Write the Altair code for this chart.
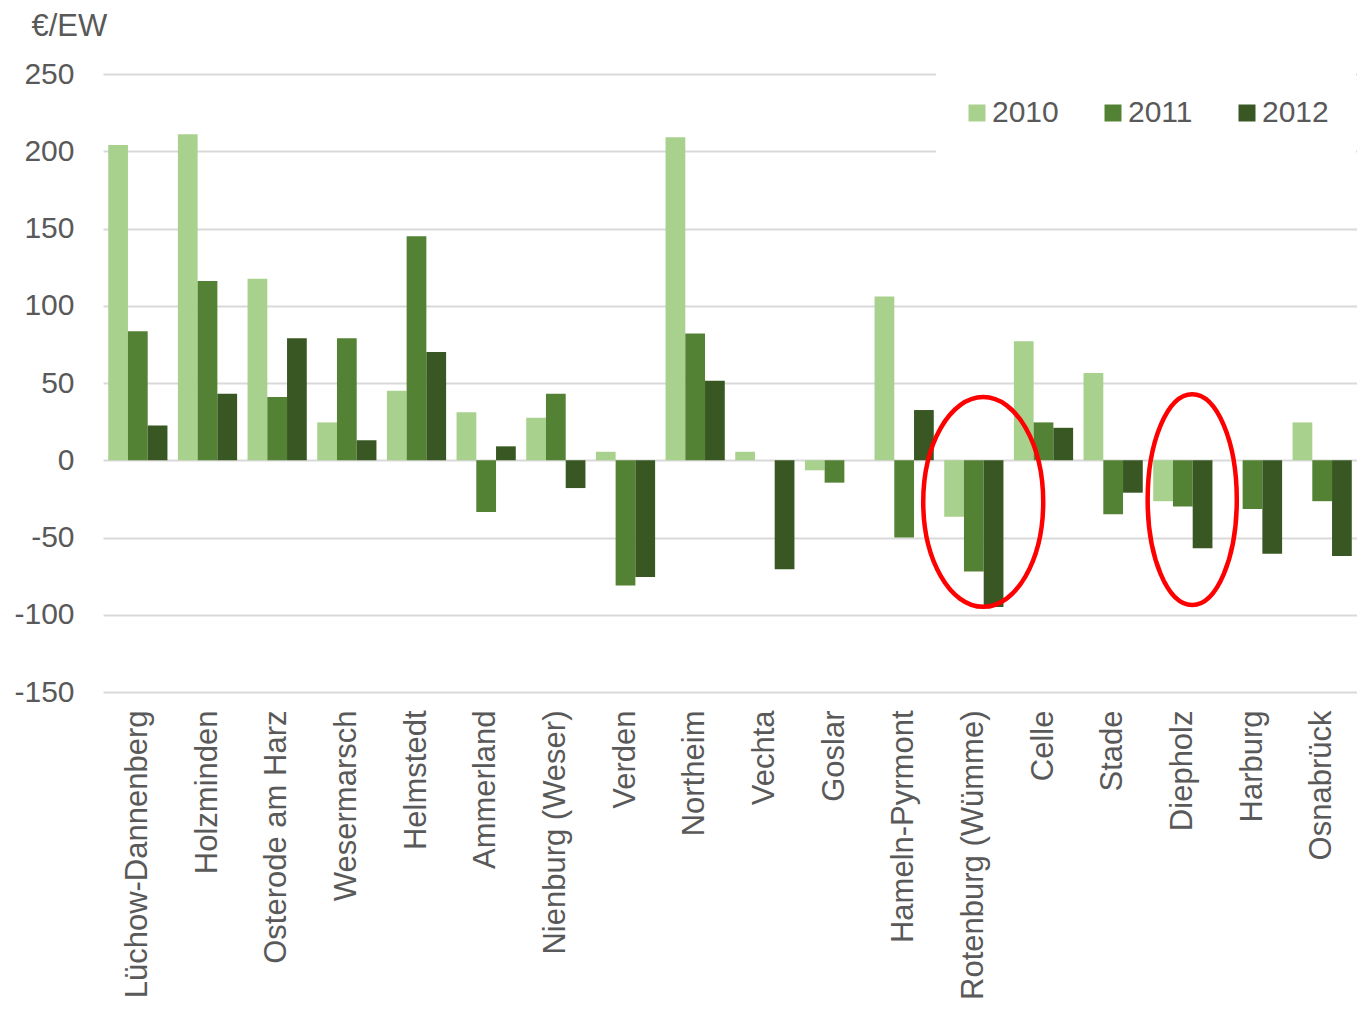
import altair as alt
import pandas as pd

districts = ["Lüchow-Dannenberg", "Holzminden", "Osterode am Harz", "Wesermarsch",
             "Helmstedt", "Ammerland", "Nienburg (Weser)", "Verden", "Northeim",
             "Vechta", "Goslar", "Hameln-Pyrmont", "Rotenburg (Wümme)", "Celle",
             "Stade", "Diepholz", "Harburg", "Osnabrück"]
years = ["2010", "2011", "2012"]
v2010 = [204, 211, 117.5, 24.5, 45, 31, 27.5, 5.5, 209, 5.5, -6.5, 106, -36.5, 77, 56.5, -26.5, None, 24.5]
v2011 = [83.5, 116, 41, 79, 145, -33.5, 43, -81, 82, None, -14.5, -50, -72, 24.5, -35, -30, -31.5, -26.5]
v2012 = [22.5, 43, 79, 13, 70, 9, -18, -75.5, 51.5, -70.5, None, 32.5, -95, 21, -21, -57, -60.5, -62]
colors = ["#a9d18e", "#548235", "#385723"]

# highlighted districts (red ellipses) and the centre value of each ellipse
hl_districts = ["Rotenburg (Wümme)", "Diepholz"]
hl_centre = [-27, -25.5]

rows = []
for i, d in enumerate(districts):
    for y, vals in zip(years, [v2010, v2011, v2012]):
        if vals[i] is not None:
            rows.append({"Landkreis": d, "Jahr": y, "Wert": vals[i]})
df = pd.DataFrame(rows)
hl = pd.DataFrame({"Landkreis": hl_districts, "Wert": hl_centre})

FONT = "Liberation Sans"
TXT = "#595959"


def ellipse_path(rx):
    k = 0.5523 * rx
    return (f"M0,-1C{k:.3f},-1,{rx:.3f},-0.552,{rx:.3f},0"
            f"C{rx:.3f},0.552,{k:.3f},1,0,1"
            f"C{-k:.3f},1,{-rx:.3f},0.552,{-rx:.3f},0"
            f"C{-rx:.3f},-0.552,{-k:.3f},-1,0,-1Z")


xenc = alt.X("Landkreis:N", sort=districts,
             scale=alt.Scale(paddingInner=0.15, paddingOuter=0.075),
             axis=alt.Axis(title=None, labelAngle=-90, labelFontSize=31, labelFont=FONT,
                           labelColor=TXT, ticks=False, domain=False, labelPadding=18,
                           labelLimit=400))
yscale = alt.Scale(domain=[-150, 250], nice=False, zero=False)

bars = alt.Chart(df).mark_bar().encode(
    x=xenc,
    xOffset=alt.XOffset("Jahr:N", sort=years),
    y=alt.Y("Wert:Q", scale=yscale,
            axis=alt.Axis(values=[-150, -100, -50, 0, 50, 100, 150, 200, 250],
                          labelExpr="'' + datum.value",
                          title="€/EW", titleAngle=0, titleAlign="left",
                          titleBaseline="top", titleX=-72, titleY=-63,
                          titleFontSize=31, titleFont=FONT, titleColor=TXT,
                          titleFontWeight="normal",
                          labelFontSize=30, labelFont=FONT, labelColor=TXT,
                          labelPadding=29, ticks=False, domain=False,
                          gridColor="#d9d9d9", gridWidth=2)),
    color=alt.Color("Jahr:N", sort=years,
                    scale=alt.Scale(domain=years, range=colors),
                    legend=alt.Legend(title=None, orient="none", direction="horizontal",
                                      legendX=833, legendY=-2, padding=26,
                                      fillColor="white", strokeColor="white",
                                      symbolType="square", symbolSize=289,
                                      symbolStrokeWidth=0, labelFontSize=30,
                                      labelFont=FONT, labelColor=TXT, labelOffset=0,
                                      columnPadding=39)),
)

ell1 = alt.Chart(hl[hl.Landkreis == hl_districts[0]]).mark_point(
    shape=ellipse_path(0.572), size=44000, filled=False, stroke="#ff0000",
    strokeWidth=4.5, opacity=1
).encode(x=alt.X("Landkreis:N", sort=districts), y=alt.Y("Wert:Q", scale=yscale),
         xOffset=alt.value(39))

ell2 = alt.Chart(hl[hl.Landkreis == hl_districts[1]]).mark_point(
    shape=ellipse_path(0.423), size=44400, filled=False, stroke="#ff0000",
    strokeWidth=4.5, opacity=1
).encode(x=alt.X("Landkreis:N", sort=districts), y=alt.Y("Wert:Q", scale=yscale),
         xOffset=alt.value(39))

chart = alt.layer(bars, ell1, ell2).properties(
    width=1254, height=618,
    padding={"left": 5, "top": 2, "right": 0, "bottom": 0},
    background="white",
).configure_view(stroke=None)

chart.save("out.html", embed_options={"renderer": "svg", "actions": False})
